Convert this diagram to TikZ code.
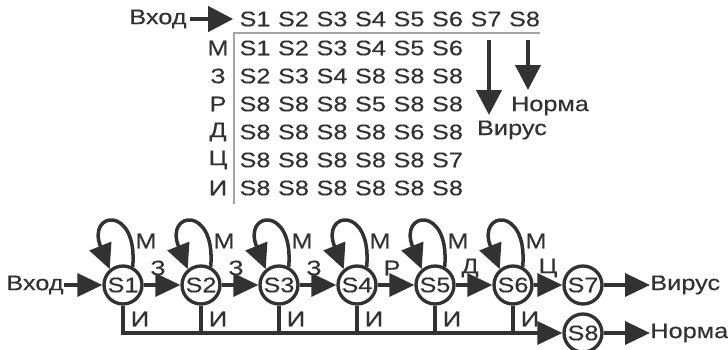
\documentclass[tikz,border=0pt]{standalone}
\usepackage{fontspec}
\setmainfont{Liberation Sans}[FakeStretch=1.2, FakeBold=0.3]
\usetikzlibrary{arrows.meta}
\definecolor{ink}{RGB}{50,50,50}
\definecolor{rule}{RGB}{165,165,165}

\begin{document}
\begin{tikzpicture}[x=0.02cm, y=-0.02cm, font=\fontsize{12}{14}\selectfont, text=ink,
  arr/.style={ink, line width=2pt, -{Triangle[length=0.5cm, width=0.46cm]}},
  bigarr/.style={ink, line width=2.4pt, -{Triangle[length=0.5cm, width=0.5cm]}},
  state/.style={circle, draw=ink, line width=1.9pt, minimum size=0.76cm, inner sep=0pt},
  cell/.style={inner sep=0pt},
  tag/.style={inner sep=0pt}]
  \useasboundingbox (0,0) rectangle (728,349);
  %% 1. Table
  \node[cell] (inp) at (158,19) {Вход};
  \foreach \s in {1,...,8}
    \node[cell] (h\s) at (216.5+38.5*\s,19) {S\s};
  \foreach \lab/\ua/\ub/\uc/\ud/\ue/\uf [count=\r] in
      {М/1/2/3/4/5/6, З/2/3/4/8/8/8, Р/8/8/8/5/8/8,
       Д/8/8/8/8/6/8, Ц/8/8/8/8/8/7, И/8/8/8/8/8/8} {
    \node[cell] (r\r) at (218,20+28*\r) {\lab};
    \foreach \s [count=\k] in {\ua,\ub,\uc,\ud,\ue,\uf}
      \node[cell] (c\r\k) at (216.5+38.5*\k,20+28*\r) {S\s};
  }
  \coordinate (corner) at (234,33);
  \draw[rule, line width=0.6pt] (540,33) -- (corner) -- (234,204);
  \draw[bigarr, shorten <=0.06cm, shorten >=0.12cm] (inp) -- (h1);
  %% 2. Outputs of the table
  \node[cell] (vir) at (512,130) {Вирус};
  \node[cell] (nrm) at (550,106) {Норма};
  \coordinate (vtop) at (489,40);
  \coordinate (vbot) at (489,115);
  \coordinate (ntop) at (528,40);
  \coordinate (nbot) at (528,90);
  \draw[bigarr] (vtop) -- (vbot);
  \draw[bigarr] (ntop) -- (nbot);
  %% 3. Automaton
  \node[cell] (in2) at (35,285) {Вход};
  \foreach \i in {1,...,6}
    \node[state] (s\i) at (123+78*\i-78,285) {S\i};
  \node[state] (s7) at (583,285) {S7};
  \node[state] (s8) at (583,333) {S8};
  \draw[arr] (in2) -- (s1);
  \foreach \i in {1,...,6} {
    \draw[arr] (s\i.62) .. controls +(85:1.25cm) and +(112:1.25cm) .. (s\i.130);
    \node[tag] (m\i) at ([shift={(23,-44)}]s\i) {М};
    \node[tag] (e\i) at ([shift={(17,34)}]s\i) {И};
  }
  \foreach \i/\lab [count=\j from 2] in {1/З, 2/З, 3/З, 4/Р, 5/Д, 6/Ц} {
    \draw[arr] (s\i) -- (s\j);
    \node[tag] (t\i) at ([shift={(35,-17)}]s\i) {\lab};
  }
  %% 4. Bus to S8
  \draw[arr] (s1.south) |- (s8);
  \foreach \i in {2,...,6}
    \draw[ink, line width=2pt] (s\i.south) -- (s\i.south |- s8.west);
  \node[cell, anchor=west] (vir2) at (650,285) {Вирус};
  \node[cell, anchor=west] (nrm2) at (650,333) {Норма};
  \draw[arr] (s7) -- (vir2);
  \draw[arr] (s8) -- (nrm2);
\end{tikzpicture}
\end{document}
